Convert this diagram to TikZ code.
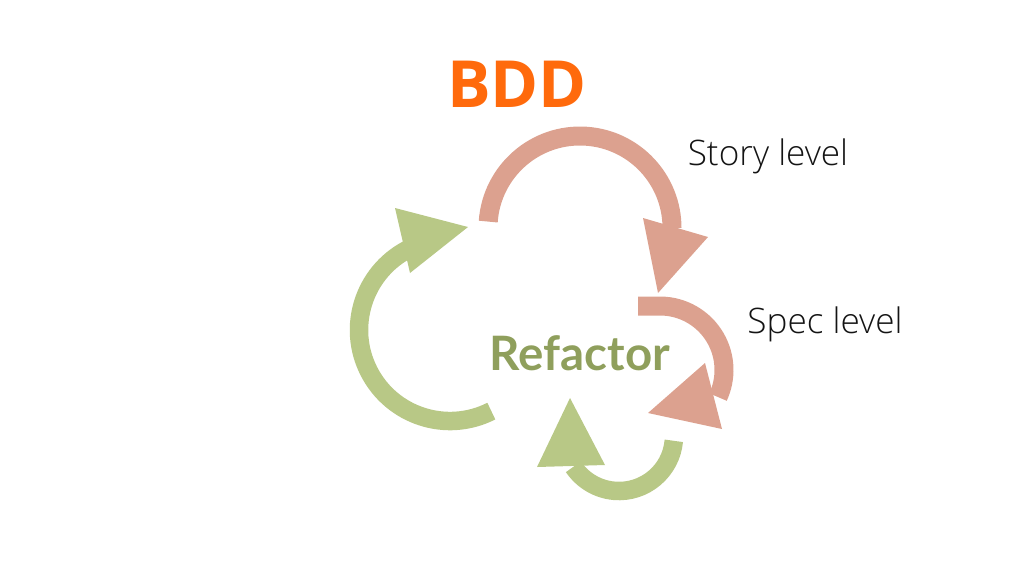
\documentclass[tikz,border=0pt]{standalone}
\usepackage{fontspec}
\setmainfont{Open Sans}
\newfontfamily\levelfont{Open Sans Light}
\newfontfamily\refactorfont{Lato}
\usepackage{xcolor}
\definecolor{BddOrange}{RGB}{255,106,12}
\definecolor{ArcSalmon}{RGB}{220,161,143}
\definecolor{ArcGreen}{RGB}{184,200,134}
\definecolor{TextOlive}{RGB}{143,159,92}
\definecolor{TextDark}{RGB}{20,20,20}
\usetikzlibrary{calc}
\tikzset{
  % Title and labels
  titlelbl/.style={
    font=\fontsize{37}{44}\selectfont\bfseries,
    text=BddOrange, inner sep=0pt, anchor=base
  },
  levellbl/.style={
    font=\fontsize{20}{24}\selectfont\levelfont,
    text=TextDark, inner sep=0pt, anchor=base
  },
  centrelbl/.style={
    font=\fontsize{27}{32}\selectfont\refactorfont\bfseries,
    text=TextOlive, inner sep=0pt, anchor=base
  },
  % Thick curved bands
  band salmon/.style={draw=ArcSalmon, line width=0.38cm, line cap=butt},
  band green/.style={draw=ArcGreen, line width=0.37cm, line cap=butt},
  % Big arrow heads
  head salmon/.style={fill=ArcSalmon},
  head green/.style={fill=ArcGreen},
}
\begin{document}
\begin{tikzpicture}[x=0.02cm, y=-0.02cm]

  \useasboundingbox (0,0) rectangle (1024,576);

  \node[titlelbl] (bdd) at (517,107) {BDD};
  \node[levellbl] (story) at (768,165) {Story level};
  \node[levellbl] (spec) at (825,333) {Spec level};
  \node[centrelbl] (refactor) at (580,370) {Refactor};

  %% Arc centres
  \coordinate (storyC) at (580,228);
  \coordinate (specC)  at (660,370);
  \coordinate (smallC) at (619,436);
  \coordinate (bigC)   at (450,330);

  %% Story level loop
  \draw[band salmon] ([shift={(184:92)}]storyC)
    arc[start angle=184, end angle=360, radius=92];
  \fill[head salmon] (643,218) -- (708,237) -- (658,293) -- cycle;

  %% Spec level loop
  \draw[band salmon] (638,306) -- ([shift={(270:64)}]specC)
    arc[start angle=270, end angle=385, radius=64];
  \fill[head salmon] (705,363) -- (722,429) -- (648,413) -- cycle;

  %% Small refactor loop
  \draw[band green] ([shift={(5:55)}]smallC)
    arc[start angle=5, end angle=146, radius=55];
  \fill[head green] (570,398) -- (605,465) -- (537,467) -- cycle;

  %% Big refactor loop
  \draw[band green] ([shift={(63:91)}]bigC)
    arc[start angle=63, end angle=242, radius=91];
  \fill[head green] (395,208) -- (468,227) -- (410,273) -- cycle;

\end{tikzpicture}
\end{document}
